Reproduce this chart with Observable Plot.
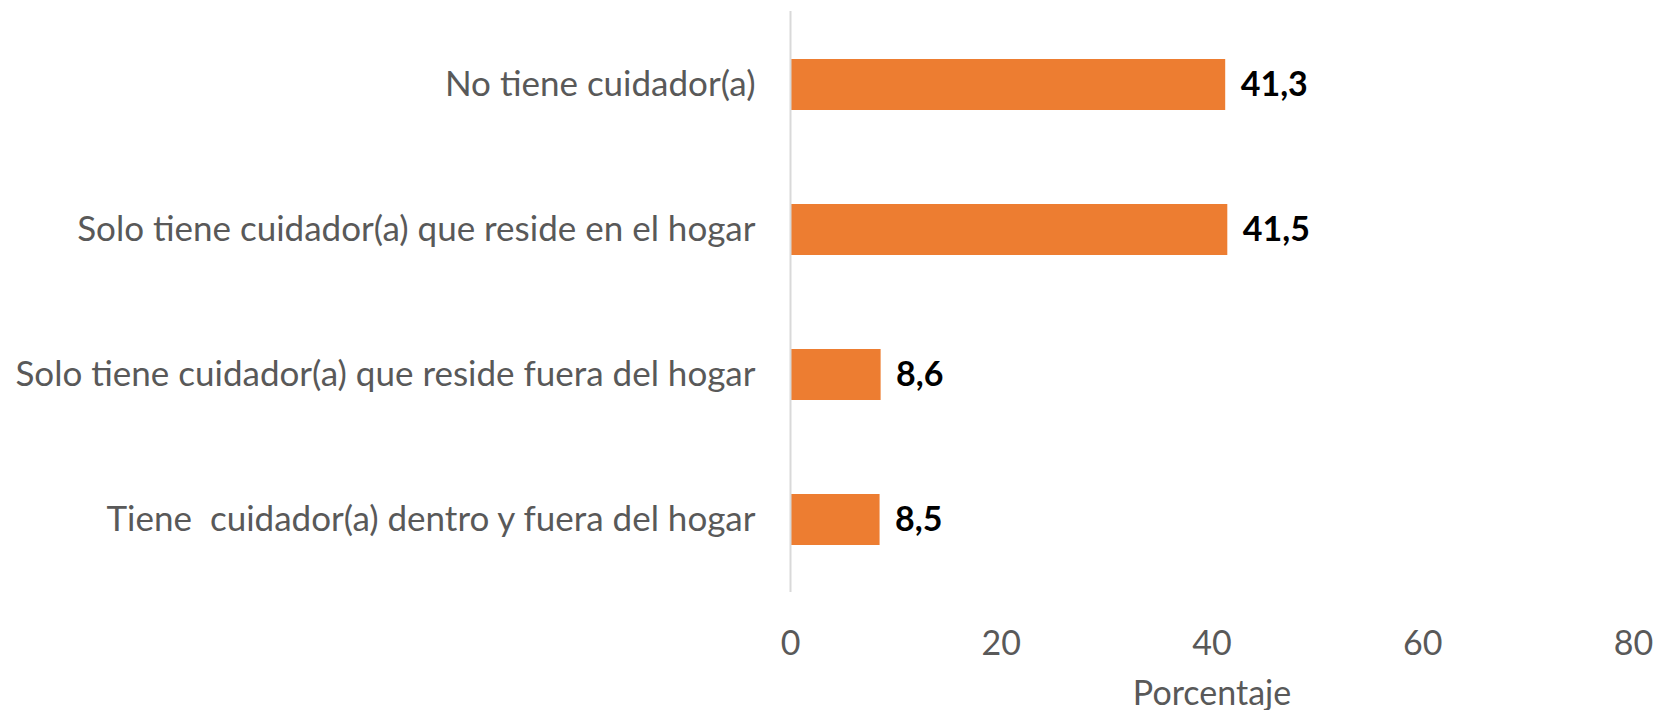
<!DOCTYPE html>
<html>
<head>
<meta charset="utf-8">
<script src="https://cdn.jsdelivr.net/npm/d3@7"></script>
<script src="https://cdn.jsdelivr.net/npm/@observablehq/plot@0.6"></script>
<style>
  html, body { margin: 0; padding: 0; background: #ffffff; }
  #chart { width: 1657px; height: 710px; }
</style>
</head>
<body>
<div id="chart"></div>
<script>
const categories = [
  "No tiene cuidador(a)",
  "Solo tiene cuidador(a) que reside en el hogar",
  "Solo tiene cuidador(a) que reside fuera del hogar",
  "Tiene  cuidador(a) dentro y fuera del hogar"
];
const values = [41.3, 41.5, 8.6, 8.5];
const valueLabels = ["41,3", "41,5", "8,6", "8,5"];
const xTicks = [0, 20, 40, 60, 80];
const xTitle = "Porcentaje";

const data = categories.map((c, i) => ({category: c, value: values[i], label: valueLabels[i]}));

const FONT = "Lato, 'Open Sans', sans-serif";
const FS = 35;

const chart = Plot.plot({
  width: 1657,
  height: 710,
  marginLeft: 790,
  marginRight: 24,
  marginTop: 11,
  marginBottom: 118,
  style: {fontFamily: FONT, fontSize: FS + "px", background: "#ffffff", overflow: "visible"},
  x: {domain: [0, 80]},
  y: {domain: categories, paddingInner: 0.65, paddingOuter: 0.325},
  marks: [
    Plot.axisX({
      ticks: xTicks,
      tickSize: 0,
      tickPadding: 38,
      color: "#595959",
      fontSize: 34,
      label: xTitle,
      labelAnchor: "center",
      labelArrow: "none",
      labelOffset: 112
    }),
    Plot.axisY({
      tickSize: 0,
      tickPadding: 35,
      color: "#595959",
      fontSize: FS,
      label: null
    }),
    Plot.barX(data, {x: "value", y: "category", fill: "#ED7D31"}),
    Plot.ruleX([0], {stroke: "#d9d9d9", strokeWidth: 2}),
    Plot.text(data, {
      x: "value", y: "category", text: "label",
      textAnchor: "start", dx: 15,
      fontWeight: "bold", fontSize: 34, fill: "#000000"
    })
  ]
});
document.getElementById("chart").appendChild(chart);
</script>
</body>
</html>
